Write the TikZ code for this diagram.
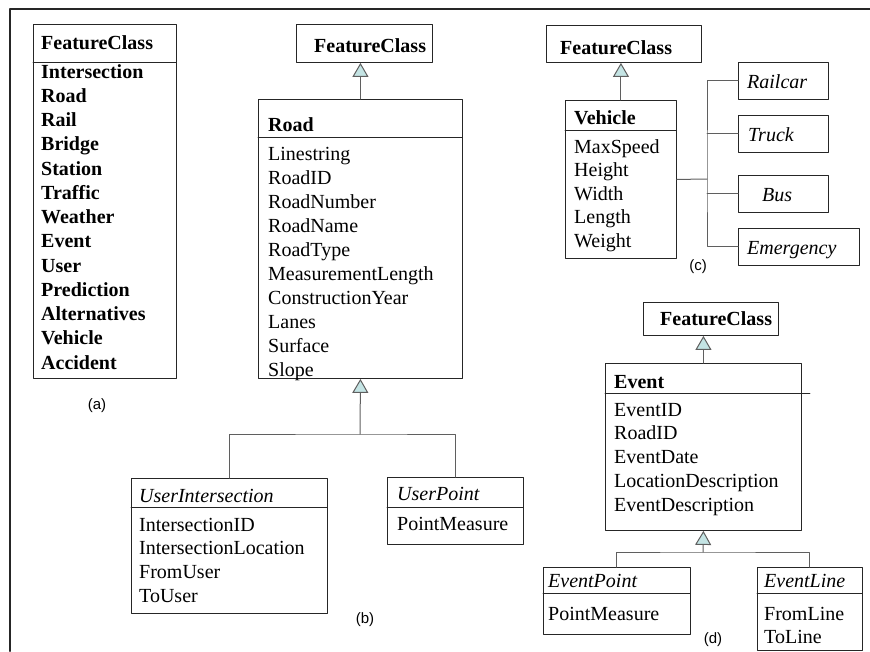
\documentclass[tikz,border=0pt]{standalone}
\usepackage{fontspec}
\setmainfont{Liberation Serif}
\setsansfont{Liberation Sans}
\usetikzlibrary{arrows.meta}
\definecolor{inhfill}{RGB}{196,228,228}
\definecolor{linegray}{RGB}{95,95,95}
\begin{document}
\begin{tikzpicture}[line cap=round,line join=round,x=1pt,y=-1pt,
		cls/.style={draw=black!85,line width=0.9pt,anchor=north west,inner sep=0pt},
		sep/.style={draw=black!85,line width=0.9pt},
		txt/.style={anchor=base west,inner sep=0pt,font=\fontsize{20}{24}\selectfont},
		hd/.style={txt,font=\fontsize{20}{24}\selectfont\bfseries},
		ital/.style={txt,font=\fontsize{20}{24}\selectfont\itshape},
		tag/.style={inner sep=0pt,font=\sffamily\fontsize{15}{18}\selectfont},
		conn/.style={draw=linegray,line width=1pt},
		inh/.style={conn,-{Triangle[open,fill=inhfill,length=14pt,width=16pt]}}]
		\useasboundingbox (0,0) rectangle (870,651);
		\draw [line width=2pt,black!85] (10,651)-- (10,9)-- (870,9);
		% (a)
		\node[cls,minimum width=143pt,minimum height=354pt] (fclist) at (33,24) {};
		\draw[sep] (fclist.north west) ++(0,38) -- ++(143,0);
		\node[hd] (fclisthd) at (41,49) {FeatureClass};
		\foreach \nm [count=\i] in {Intersection,Road,Rail,Bridge,Station,Traffic,Weather,Event,User,Prediction,Alternatives,Vehicle,Accident}
		\node[hd] (fcl\i) at (41,{78+24.25*(\i-1)}) {\nm};
		\node[tag] (laba) at (97,406) {(a)};
		% (b)
		\node[cls,minimum width=136pt,minimum height=38pt] (fcroad) at (296,24) {};
		\node[hd] (fcroadtx) at (314,52) {FeatureClass};
		\node[cls,minimum width=204pt,minimum height=279pt] (road) at (258,99) {};
		\draw[sep] (road.north west) ++(0,38) -- ++(204,0);
		\node[hd] (roadhd) at (268,131) {Road};
		\foreach \nm [count=\i] in {Linestring,RoadID,RoadNumber,RoadName,RoadType,MeasurementLength,ConstructionYear,Lanes,Surface,Slope}
		\node[txt] (roadat\i) at (268,{160+24*(\i-1)}) {\nm};
		\draw[inh] (road.north) -- (road.north |- fcroad.south);
		\node[cls,minimum width=196pt,minimum height=135pt] (uinter) at (131,478) {};
		\draw[sep] (uinter.north west) ++(0,29) -- ++(196,0);
		\node[ital] (uinterhd) at (139,502) {UserIntersection};
		\foreach \nm [count=\i] in {IntersectionID,IntersectionLocation,FromUser,ToUser}
		\node[txt] (uinterat\i) at (139,{531+23.7*(\i-1)}) {\nm};
		\node[cls,minimum width=136pt,minimum height=67pt] (upoint) at (387,477) {};
		\draw[sep] (upoint.north west) ++(0,30) -- ++(136,0);
		\node[ital] (upointhd) at (397,500) {UserPoint};
		\node[txt] (upointat) at (397,530) {PointMeasure};
		\coordinate (roadfork) at (360,434);
		\draw[conn] (uinter.north) |- (roadfork) -| (upoint.north);
		\draw[inh] (roadfork) -- (road.south);
		\node[tag] (labb) at (365,620) {(b)};
		% (c)
		\node[cls,minimum width=155pt,minimum height=37pt] (fcveh) at (546,25) {};
		\node[hd] (fcvehtx) at (560,54) {FeatureClass};
		\node[cls,minimum width=111pt,minimum height=158pt] (vehicle) at (565,100) {};
		\draw[sep] (vehicle.north west) ++(0,30) -- ++(111,0);
		\node[hd] (vehhd) at (574,124) {Vehicle};
		\foreach \nm [count=\i] in {MaxSpeed,Height,Width,Length,Weight}
		\node[txt] (vehat\i) at (574,{153+23.5*(\i-1)}) {\nm};
		\draw[inh] (vehicle.north) -- (vehicle.north |- fcveh.south);
		\foreach \nm/\tx/\ty/\tl/\w in {railcar/Railcar/62/747/90,truck/Truck/115/748/90,bus/Bus/175/762/90,emerg/Emergency/228/747/121}{
			\node[cls,minimum width=\w pt,minimum height=37pt] (\nm) at (738,\ty) {};
			\node[ital] (\nm tx) at (\tl,{\ty+26}) {\tx};
		}
		\coordinate (vehfork) at (707,179);
		\draw[conn] (vehicle.east) -- (vehfork);
		\draw[conn] (railcar.west) -| (vehfork) |- (emerg.west);
		\draw[conn] (truck.west) -- (truck.west -| vehfork);
		\draw[conn] (bus.west) -- (bus.west -| vehfork);
		\node[tag] (labc) at (698,267) {(c)};
		% (d)
		\node[cls,minimum width=135pt,minimum height=33pt] (fcevent) at (643,302) {};
		\node[hd] (fceventtx) at (660,325) {FeatureClass};
		\node[cls,minimum width=196pt,minimum height=167pt] (event) at (605,363) {};
		\draw[sep] (event.north west) ++(0,30) -- ++(205,0);
		\node[hd] (evhd) at (614,388) {Event};
		\foreach \nm [count=\i] in {EventID,RoadID,EventDate,LocationDescription,EventDescription}
		\node[txt] (evat\i) at (614,{416+23.75*(\i-1)}) {\nm};
		\draw[inh] (event.north) -- (event.north |- fcevent.south);
		\node[cls,minimum width=147pt,minimum height=67pt] (evpoint) at (543,567) {};
		\draw[sep] (evpoint.north west) ++(0,26) -- ++(147,0);
		\node[ital] (evpointhd) at (548,587) {EventPoint};
		\node[txt] (evpointat) at (548,620) {PointMeasure};
		\node[cls,minimum width=105pt,minimum height=83pt] (evline) at (757,567) {};
		\draw[sep] (evline.north west) ++(0,26) -- ++(105,0);
		\node[ital] (evlinehd) at (764,587) {EventLine};
		\node[txt] (evlineat1) at (764,620) {FromLine};
		\node[txt] (evlineat2) at (764,643) {ToLine};
		\coordinate (evfork) at (703,552);
		\draw[conn] (evpoint.north) |- (evfork) -| (evline.north);
		\draw[inh] (evfork) -- (event.south);
		\node[tag] (labd) at (713,640) {(d)};
\end{tikzpicture}
\end{document}
